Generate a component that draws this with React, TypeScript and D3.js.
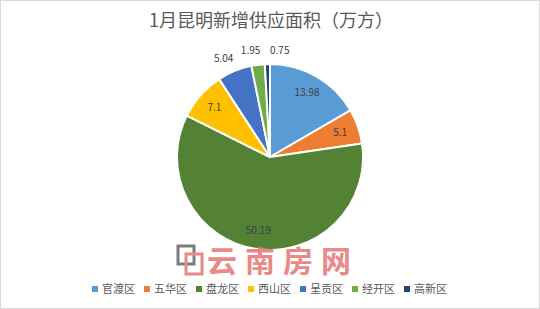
import React from "react";
import * as d3 from "d3";

const categories = ["官渡区", "五华区", "盘龙区", "西山区", "呈贡区", "经开区", "高新区"];
const values = [13.98, 5.1, 50.19, 7.1, 5.04, 1.95, 0.75];
const valueLabels = ["13.98", "5.1", "50.19", "7.1", "5.04", "1.95", "0.75"];
const colors = ["#5B9BD5", "#ED7D31", "#548235", "#FFC000", "#4472C4", "#70AD47", "#264478"];
const insideLabel = [true, true, true, true, false, false, false];
const title = "1月昆明新增供应面积（万方）";

const W = 540;
const H = 309;
const cx = 270;
const cy = 157;
const R = 93;
const FONT = "'Microsoft YaHei', 'Noto Sans CJK SC', 'DejaVu Sans', sans-serif";

export default function App() {
  const pie = d3.pie<number>().sort(null).value((d) => d).startAngle(0).endAngle(2 * Math.PI);
  const arcs = pie(values);
  const arc = d3.arc<d3.PieArcDatum<number>>().innerRadius(0).outerRadius(R);
  const inner = d3.arc<d3.PieArcDatum<number>>().innerRadius(R * 0.8).outerRadius(R * 0.8);

  const legendX = d3.scalePoint<string>().domain(categories).range([92, 404]);

  return (
    <svg width={W} height={H} style={{ position: "absolute", left: 0, top: 0, background: "#fff" }} fontFamily={FONT}>
      <rect x={0.5} y={0.5} width={W - 1} height={H - 1} fill="#fff" stroke="#d9d9d9" />
      <text x={cx + 1} y={27} textAnchor="middle" fontSize={18} fill="#595959">{title}</text>
      <g transform={`translate(${cx},${cy})`}>
        {arcs.map((a, i) => (
          <path key={i} d={arc(a) || ""} fill={colors[i]} stroke="#fff" strokeWidth={2} strokeLinejoin="round" />
        ))}
        {arcs.map((a, i) => {
          if (insideLabel[i]) {
            const [x, y] = inner.centroid(a);
            return (
              <text key={"l" + i} x={x} y={y} dy="0.35em" textAnchor="middle" fontSize={10} fill="#404040">{valueLabels[i]}</text>
            );
          }
          const mid = (a.startAngle + a.endAngle) / 2;
          const rr = R + 14;
          const x = rr * Math.sin(mid);
          const y = -rr * Math.cos(mid);
          const left = x < -5;
          return (
            <text key={"l" + i} x={left ? x + 4 : x + 3} y={y} dy="0.35em" textAnchor={left ? "end" : "start"} fontSize={10} fill="#404040">{valueLabels[i]}</text>
          );
        })}
      </g>
      {/* watermark */}
      <g opacity={0.85}>
        <rect x={178} y={246} width={16} height={18} fill="none" stroke="#666" strokeWidth={3} />
        <rect x={186} y={254} width={16} height={20} fill="none" stroke="#e87474" strokeWidth={3} />
        <text x={283} y={272} textAnchor="middle" fontSize={30} fontWeight="bold" fill="#e87474" letterSpacing={8}>云南房网</text>
      </g>
      {categories.map((c, i) => (
        <g key={c} transform={`translate(${legendX(c)},289)`}>
          <rect x={0} y={-3} width={6} height={6} fill={colors[i]} />
          <text x={10} y={0} dy="0.35em" fontSize={11} fill="#595959">{c}</text>
        </g>
      ))}
    </svg>
  );
}
